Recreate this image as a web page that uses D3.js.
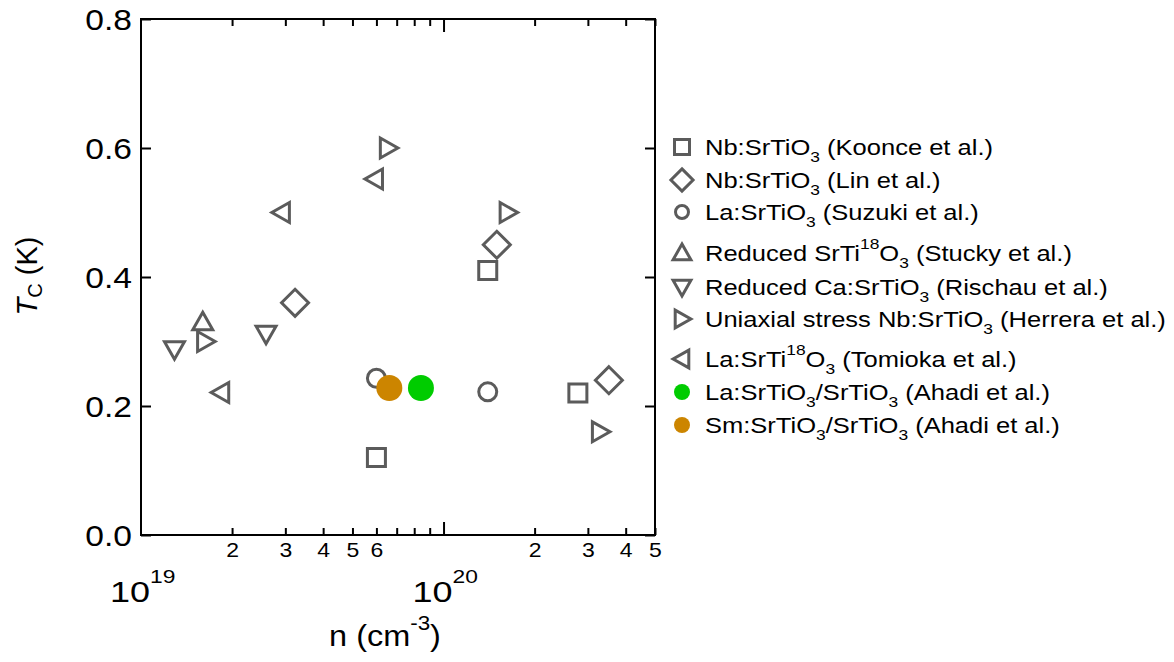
<!DOCTYPE html>
<html><head><meta charset="utf-8">
<script src="https://cdn.jsdelivr.net/npm/d3@7"></script>
<style>body{margin:0;background:#fff;} text{font-family:"Liberation Sans",Arial,sans-serif;}</style>
</head><body>
<svg id="c" width="1174" height="662"></svg>
<script>
// ---- data ----
const koonceN = [6.0e19, 1.40e20, 2.78e20];
const koonceT = [0.12, 0.41, 0.22];
const linN = [3.23e19, 1.50e20, 3.52e20];
const linT = [0.36, 0.45, 0.24];
const suzukiN = [6.0e19, 1.40e20];
const suzukiT = [0.243, 0.222];
const stuckyN = [1.60e19];
const stuckyT = [0.33];
const rischauN = [1.29e19, 2.59e19];
const rischauT = [0.288, 0.312];
const herreraN = [1.63e19, 6.55e19, 1.63e20, 3.29e20];
const herreraT = [0.30, 0.60, 0.50, 0.16];
const tomiokaN = [1.84e19, 2.92e19, 5.93e19];
const tomiokaT = [0.221, 0.50, 0.552];
const laN = [8.42e19];
const laT = [0.228];
const smN = [6.62e19];
const smT = [0.228];

const xMinorTicks = [2e19,3e19,4e19,5e19,6e19,7e19,8e19,9e19,2e20,3e20,4e20,5e20];
const xMinorLabels = ["2","3","4","5","6","","","","2","3","4","5"];
const xDecades = [1e19, 1e20];
const xDecadeExp = ["19", "20"];
const yTicks = [0.0, 0.2, 0.4, 0.6, 0.8];
const yTickLabels = ["0.0","0.2","0.4","0.6","0.8"];

const legendItems = [
  {shape:"square", parts:[["Nb:SrTiO"],["3","sub"],[" (Koonce et al.)"]]},
  {shape:"diamond", parts:[["Nb:SrTiO"],["3","sub"],[" (Lin et al.)"]]},
  {shape:"circle", parts:[["La:SrTiO"],["3","sub"],[" (Suzuki et al.)"]]},
  {shape:"up", parts:[["Reduced SrTi"],["18","sup"],["O"],["3","sub"],[" (Stucky et al.)"]]},
  {shape:"down", parts:[["Reduced Ca:SrTiO"],["3","sub"],[" (Rischau et al.)"]]},
  {shape:"right", parts:[["Uniaxial stress Nb:SrTiO"],["3","sub"],[" (Herrera et al.)"]]},
  {shape:"left", parts:[["La:SrTi"],["18","sup"],["O"],["3","sub"],[" (Tomioka et al.)"]]},
  {shape:"green", parts:[["La:SrTiO"],["3","sub"],["/SrTiO"],["3","sub"],[" (Ahadi et al.)"]]},
  {shape:"orange", parts:[["Sm:SrTiO"],["3","sub"],["/SrTiO"],["3","sub"],[" (Ahadi et al.)"]]}
];
const legendRowY = [147,180,212,253,287,319,359,392,425];

// ---- setup ----
const GRAY = "#5b5b5b", GREEN = "#00cc00", ORANGE = "#cc8500";
const svg = d3.select("#c");
const L = 141, R = 655, T = 19, B = 535;
const x = d3.scaleLog().domain([1e19, 5e20]).range([L, R]);
const y = d3.scaleLinear().domain([0, 0.8]).range([B, T]);

function shapePath(shape, s) {
  switch (shape) {
    case "square": return `M${-s},${-s}H${s}V${s}H${-s}Z`;
    case "diamond": { const d = s*1.42; return `M0,${-d}L${d},0L0,${d}L${-d},0Z`; }
    case "up": return `M0,${-s*1.05}L${s*1.05},${s*0.8}L${-s*1.05},${s*0.8}Z`;
    case "down": return `M0,${s*1.05}L${s*1.05},${-s*0.8}L${-s*1.05},${-s*0.8}Z`;
    case "right": return `M${s*1.05},0L${-s*0.8},${s*1.05}L${-s*0.8},${-s*1.05}Z`;
    case "left": return `M${-s*1.05},0L${s*0.8},${s*1.05}L${s*0.8},${-s*1.05}Z`;
  }
}

// ---- frame and axes ----
svg.append("rect").attr("x", L).attr("y", T).attr("width", R-L).attr("height", B-T)
  .attr("fill","none").attr("stroke","#000").attr("stroke-width",2);

const xb = svg.append("g").attr("transform", `translate(0,${B})`)
  .call(d3.axisBottom(x).tickValues(xMinorTicks).tickSize(-7).tickPadding(8)
    .tickFormat((d,i) => xMinorLabels[i]));
const xb2 = svg.append("g").attr("transform", `translate(0,${B})`)
  .call(d3.axisBottom(x).tickValues([1e20]).tickSize(-13).tickFormat(""));
const xt = svg.append("g").attr("transform", `translate(0,${T})`)
  .call(d3.axisTop(x).tickValues(xMinorTicks).tickSize(-7).tickFormat(""));
const xt2 = svg.append("g").attr("transform", `translate(0,${T})`)
  .call(d3.axisTop(x).tickValues([1e20]).tickSize(-13).tickFormat(""));
const yl = svg.append("g").attr("transform", `translate(${L},0)`)
  .call(d3.axisLeft(y).tickValues(yTicks).tickSize(-10).tickPadding(8)
    .tickFormat((d,i) => yTickLabels[i]));
const yr = svg.append("g").attr("transform", `translate(${R},0)`)
  .call(d3.axisRight(y).tickValues(yTicks).tickSize(-10).tickFormat(""));
[xb,xb2,xt,xt2,yl,yr].forEach(g => {
  g.select(".domain").remove();
  g.selectAll(".tick line").attr("stroke","#000").attr("stroke-width",2);
  g.selectAll("text").attr("fill","#000").style("font-family",'"Liberation Sans",Arial,sans-serif');
});
xb.selectAll("text").attr("font-size", 20).attr("transform","scale(1.15,1)");
yl.selectAll("text").attr("font-size", 30).attr("dy","0.36em").attr("transform","scale(1.12,1)");

// decade labels
xDecades.forEach((d,i) => {
  const g = svg.append("g").attr("transform", `translate(${x(d) - 31},602) scale(1.2,1)`);
  const t = g.append("text").attr("x", 0).attr("y", 0).attr("font-size", 30).attr("fill","#000");
  t.append("tspan").text("10");
  t.append("tspan").attr("dy", -19).attr("font-size", 19).text(xDecadeExp[i]);
});

// axis titles
const xg = svg.append("g").attr("transform", "translate(385,646) scale(1.12,1)");
const xt_ = xg.append("text").attr("text-anchor","middle").attr("font-size", 29).attr("fill","#000");
xt_.append("tspan").text("n (cm");
xt_.append("tspan").attr("dy", -16).attr("font-size", 20).text("-3");
xt_.append("tspan").attr("dy", 16).text(")");

const yt_ = svg.append("text").attr("transform", "translate(37,276) rotate(-90)")
  .attr("text-anchor","middle").attr("font-size", 29).attr("fill","#000");
yt_.append("tspan").attr("font-style","italic").text("T");
yt_.append("tspan").attr("font-size", 20).attr("dy", 5).text("C");
yt_.append("tspan").attr("dy", -5).text(" (K)");

// ---- data marks ----
const plot = svg.append("g");
function openMarks(ns, ts, shape, s) {
  plot.selectAll(null).data(ns.map((n,i) => [n, ts[i]])).enter()
    .append(shape === "circle" ? "circle" : "path")
    .each(function(d) {
      const el = d3.select(this);
      if (shape === "circle") el.attr("cx", x(d[0])).attr("cy", y(d[1])).attr("r", s);
      else el.attr("transform", `translate(${x(d[0])},${y(d[1])})`).attr("d", shapePath(shape, s));
    })
    .attr("fill","none").attr("stroke", GRAY).attr("stroke-width", 3);
}
openMarks(koonceN, koonceT, "square", 9);
openMarks(linN, linT, "diamond", 9.5);
openMarks(suzukiN, suzukiT, "circle", 9);
openMarks(stuckyN, stuckyT, "up", 9.5);
openMarks(rischauN, rischauT, "down", 9.5);
openMarks(herreraN, herreraT, "right", 9.5);
openMarks(tomiokaN, tomiokaT, "left", 9.5);
function filled(ns, ts, color) {
  plot.selectAll(null).data(ns.map((n,i) => [n, ts[i]])).enter().append("circle")
    .attr("cx", d => x(d[0])).attr("cy", d => y(d[1])).attr("r", 13).attr("fill", color);
}
filled(smN, smT, ORANGE);
filled(laN, laT, GREEN);

// ---- legend ----
const lg = svg.append("g");
const legendMarkSize = {square: 7.5, diamond: 7.8, up: 8.5, down: 8.5, right: 8.5, left: 8.5};
legendItems.forEach((it, i) => {
  const cy = legendRowY[i], cx = 682;
  if (it.shape === "green" || it.shape === "orange") {
    lg.append("circle").attr("cx", cx).attr("cy", cy).attr("r", 8)
      .attr("fill", it.shape === "green" ? GREEN : ORANGE);
  } else if (it.shape === "circle") {
    lg.append("circle").attr("cx", cx).attr("cy", cy).attr("r", 6.5)
      .attr("fill","none").attr("stroke",GRAY).attr("stroke-width",3);
  } else {
    lg.append("path").attr("transform", `translate(${cx},${cy})`)
      .attr("d", shapePath(it.shape, legendMarkSize[it.shape]))
      .attr("fill","none").attr("stroke",GRAY).attr("stroke-width",3);
  }
  const g = lg.append("g").attr("transform", `translate(705,${cy + 8}) scale(1.16,1)`);
  const t = g.append("text").attr("x", 0).attr("y", 0).attr("font-size", 22).attr("fill","#000");
  let off = 0;
  it.parts.forEach(p => {
    const ts = t.append("tspan").text(p[0]);
    let target = 0, fs = null;
    if (p[1] === "sub") { target = 7; fs = 15; }
    else if (p[1] === "sup") { target = -12; fs = 15; }
    ts.attr("dy", target - off);
    if (fs) ts.attr("font-size", fs);
    off = target;
  });
});
</script>
</body></html>
